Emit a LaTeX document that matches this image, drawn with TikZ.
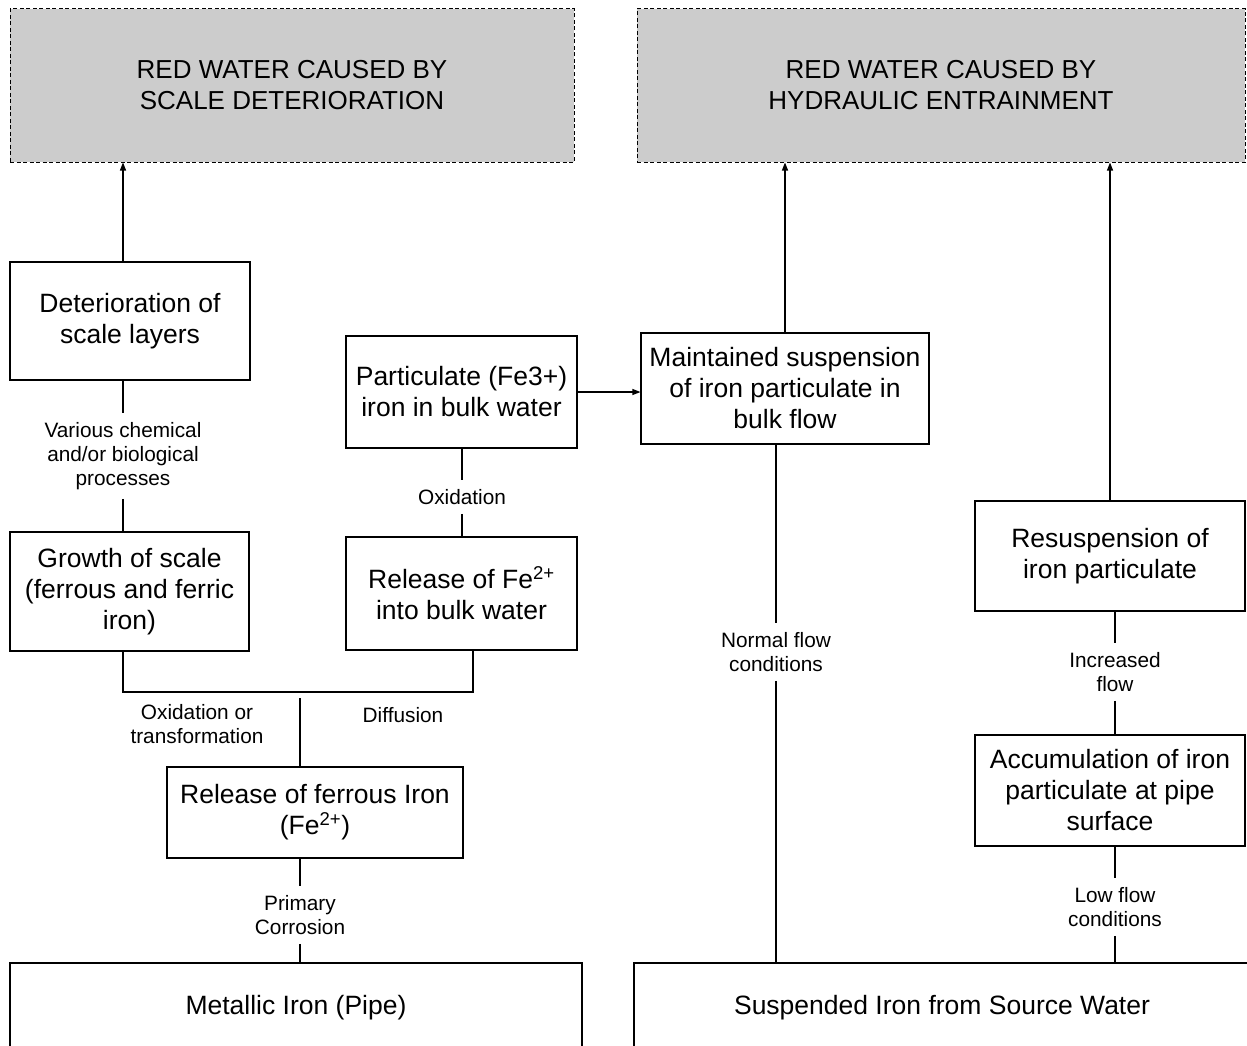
\documentclass[tikz,border=0pt]{standalone}
\usepackage{fontspec}
\setmainfont{Liberation Sans}
\usetikzlibrary{arrows.meta}
\definecolor{hdrgray}{RGB}{204,204,204}
\begin{document}
\begin{tikzpicture}[x=1pt,y=-1pt,
  box/.style={draw=black,line width=1.1pt,rectangle,inner sep=0pt,align=center,font=\fontsize{26.5}{31}\selectfont},
  hdr/.style={draw=black,line width=1pt,dash pattern=on 4pt off 2.5pt,fill=hdrgray,inner sep=0pt,align=center,font=\fontsize{26}{31}\selectfont},
  lbl/.style={inner sep=9pt,align=center,font=\fontsize{20.8}{24}\selectfont},
  conn/.style={line width=1.1pt},
  arr/.style={line width=1.1pt,-{Triangle[length=8pt,width=6pt]}}
]
\useasboundingbox (0,0) rectangle (1247,1046);
\fill[white] (0,0) rectangle (1247,1046);
\clip (0,0) rectangle (1247,1046);

% headers
\node[hdr,minimum width=564pt,minimum height=153pt] (t1) at (292,85.5) {RED WATER CAUSED BY\\SCALE DETERIORATION};
\node[hdr,minimum width=608pt,minimum height=153pt] (t2) at (941,85.5) {RED WATER CAUSED BY\\HYDRAULIC ENTRAINMENT};

% boxes
\node[box,minimum width=240pt,minimum height=118pt] (det) at (130,321) {Deterioration of\\scale layers};
\node[box,minimum width=239pt,minimum height=119pt] (gro) at (129.5,591.5) {Growth of scale\\(ferrous and ferric\\iron)};
\node[box,minimum width=231pt,minimum height=112pt] (par) at (461.5,392) {Particulate (Fe3+)\\iron in bulk water};
\node[box,minimum width=231pt,minimum height=113pt] (rel) at (461.5,593.5) {Release of Fe\textsuperscript{2+}\\into bulk water};
\node[box,minimum width=288pt,minimum height=111pt] (mai) at (785,388.5) {Maintained suspension\\of iron particulate in\\bulk flow};
\node[box,minimum width=296pt,minimum height=91pt] (rfe) at (315,812.5) {Release of ferrous Iron\\(Fe\textsuperscript{2+})};
\node[box,minimum width=572pt,minimum height=90pt] (met) at (296,1008) {Metallic Iron (Pipe)};
\node[box,minimum width=616pt,minimum height=90pt] (sus) at (942,1008) {Suspended Iron from Source Water};
\node[box,minimum width=270pt,minimum height=110pt] (res) at (1110,556) {Resuspension of\\iron particulate};
\node[box,minimum width=270pt,minimum height=111pt] (acc) at (1110,790.5) {Accumulation of iron\\particulate at pipe\\surface};

% connector labels
\node[lbl] (l1) at (123,456) {Various chemical\\and/or biological\\processes};
\node[lbl] (l2) at (462,497) {Oxidation};
\node[lbl] (l3) at (197,724) {Oxidation or\\transformation};
\node[lbl] (l4) at (403,715) {Diffusion};
\node[lbl] (l5) at (300,915) {Primary\\Corrosion};
\node[lbl] (l6) at (776,652) {Normal flow\\conditions};
\node[lbl] (l7) at (1115,672) {Increased\\flow};
\node[lbl] (l8) at (1115,907) {Low flow\\conditions};

% arrows
\draw[arr] (det.north -| l1.center) -- (t1.south -| l1.center);
\draw[arr] (mai.north) -- (t2.south -| mai.north);
\draw[arr] (res.north) -- (t2.south -| res.north);
\draw[arr] (par.east) -- (par.east -| mai.west);

% plain connectors
\draw[conn] (det.south -| l1.center) -- (l1.north);
\draw[conn] (l1.south) -- (gro.north -| l1.center);
\draw[conn] (par.south -| l2.center) -- (l2.north);
\draw[conn] (l2.south) -- (rel.north -| l2.center);
\coordinate (bl) at (123,692);
\coordinate (br) at (473,692);
\coordinate (jn) at (300,698);
\draw[conn] (gro.south -| bl) -- (bl) -- (br) -- (rel.south -| br);
\draw[conn] (jn) -- (rfe.north -| jn);
\draw[conn] (rfe.south -| l5.center) -- (l5.north);
\draw[conn] (l5.south) -- (met.north -| l5.center);
\draw[conn] (mai.south -| l6.center) -- (l6.north);
\draw[conn] (l6.south) -- (sus.north -| l6.center);
\draw[conn] (res.south -| l7.center) -- (l7.north);
\draw[conn] (l7.south) -- (acc.north -| l7.center);
\draw[conn] (acc.south -| l8.center) -- (l8.north);
\draw[conn] (l8.south) -- (sus.north -| l8.center);
\end{tikzpicture}
\end{document}
